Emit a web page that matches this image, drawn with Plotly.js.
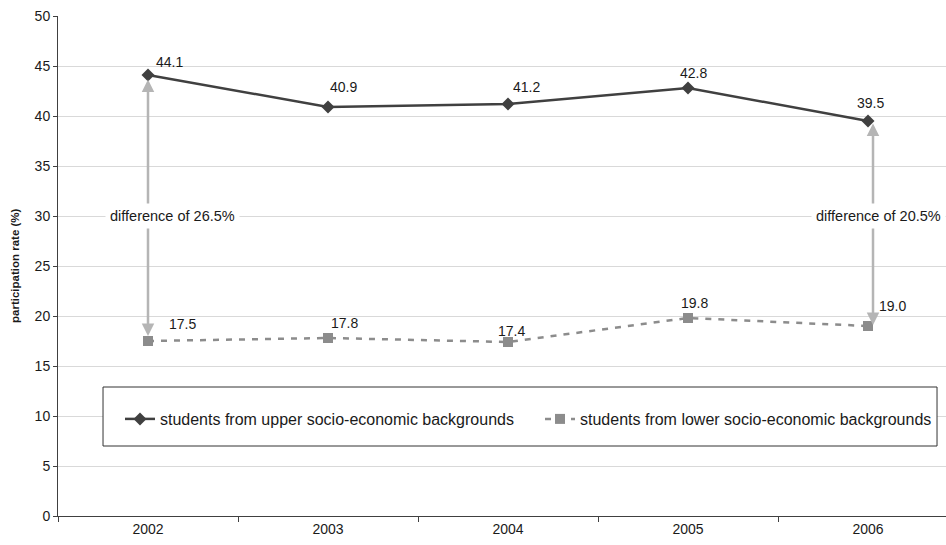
<!DOCTYPE html>
<html>
<head>
<meta charset="utf-8">
<script src="https://cdn.plot.ly/plotly-3.0.1.min.js"></script>
<style>
  html, body { margin: 0; padding: 0; background: #fff; }
  #chart { width: 946px; height: 545px; }
</style>
</head>
<body>
<div id="chart"></div>
<script>
// Participation rates by socio-economic background
const years = ['2002', '2003', '2004', '2005', '2006'];
const upper = [44.1, 40.9, 41.2, 42.8, 39.5];
const lower = [17.5, 17.8, 17.4, 19.8, 19.0];
const seriesNames = [
  'students from upper socio-economic backgrounds',
  'students from lower socio-economic backgrounds'
];
const gapYears = ['2002', '2006'];
const gapLabels = ['difference of 26.5%', 'difference of 20.5%'];
const yTickVals = [0, 5, 10, 15, 20, 25, 30, 35, 40, 45, 50];
const yTitle = 'participation rate (%)';

// Styling
const FONT = '"Liberation Sans", Arial, sans-serif';
const upperColor = '#404040';
const lowerColor = '#8c8c8c';
const arrowColor = '#b5b5b5';
const textColor = '#1a1a1a';
// pixel nudges for the value labels (dx, dy)
const upperShift = [[21, -13], [15, -20], [18, -17], [5, -15], [2, -18]];
const lowerShift = [[34, -17], [16, -15], [3, -11], [6, -15], [24, -20]];
const gapLabelLevel = 30;
const gapArrowShift = [0, 5];
const gapLabelShift = [24, 10];

const traces = [
  {
    x: years, y: upper, name: seriesNames[0], type: 'scatter', mode: 'lines+markers',
    line: { color: upperColor, width: 2.5 },
    marker: { symbol: 'diamond', size: 10, color: upperColor },
    legend: 'legend', hoverinfo: 'skip'
  },
  {
    x: years, y: lower, name: seriesNames[1], type: 'scatter', mode: 'lines+markers',
    line: { color: lowerColor, width: 2.5, dash: '6px,7px' },
    marker: { symbol: 'square', size: 10, color: lowerColor },
    legend: 'legend2', hoverinfo: 'skip'
  }
];

const annotations = [];

// double-headed arrows between the two series
gapYears.forEach((yr, k) => {
  const i = years.indexOf(yr);
  annotations.push({
    x: i, y: lower[i], ax: i, ay: upper[i],
    xref: 'x', yref: 'y', axref: 'x', ayref: 'y',
    showarrow: true, arrowside: 'end+start', arrowhead: 2, startarrowhead: 2,
    arrowsize: 1, startarrowsize: 1, arrowwidth: 2.5, arrowcolor: arrowColor,
    standoff: k === 0 ? 5 : 1, startstandoff: k === 0 ? 3 : 1,
    xshift: gapArrowShift[k], text: ''
  });
});

// difference labels on a white band over the arrow
gapYears.forEach((yr, k) => {
  const i = years.indexOf(yr);
  annotations.push({
    x: i, y: gapLabelLevel, xref: 'x', yref: 'y', showarrow: false,
    text: gapLabels[k], xshift: gapLabelShift[k],
    bgcolor: '#ffffff', borderpad: 4,
    font: { family: FONT, size: 14.5, color: textColor }
  });
});

// value labels
[[upper, upperShift], [lower, lowerShift]].forEach(([vals, shift]) => {
  vals.forEach((v, i) => {
    annotations.push({
      x: i, y: v, xref: 'x', yref: 'y', showarrow: false,
      text: v.toFixed(1), xshift: shift[i][0], yshift: -shift[i][1],
      font: { family: FONT, size: 14, color: textColor }
    });
  });
});

// y axis title
annotations.push({
  x: 0, y: 0.5, xref: 'paper', yref: 'paper', xshift: -43,
  xanchor: 'center', yanchor: 'middle',
  text: '<b>' + yTitle + '</b>', textangle: -90, showarrow: false,
  font: { family: FONT, size: 11.5, color: textColor }
});

// one legend per series, side by side inside the framed box
const legendStyle = (xPos) => ({
  orientation: 'h', x: xPos, xanchor: 'left', y: 0.194, yanchor: 'middle',
  bgcolor: 'rgba(0,0,0,0)', borderwidth: 0,
  font: { family: FONT, size: 16, color: textColor }
});

const layout = {
  width: 946, height: 545,
  margin: { l: 58, r: 0, t: 16, b: 29, pad: 0 },
  paper_bgcolor: '#ffffff', plot_bgcolor: '#ffffff',
  font: { family: FONT, size: 14, color: textColor },
  showlegend: true,
  legend: legendStyle(0.0698),
  legend2: legendStyle(0.5428),
  xaxis: {
    type: 'category', range: [-0.5, 4.4333], tickson: 'boundaries',
    ticks: 'outside', ticklen: 5, tickcolor: '#404040', tickwidth: 1,
    showline: true, linecolor: '#404040', linewidth: 1,
    showgrid: false, zeroline: false, fixedrange: true,
    tickfont: { family: FONT, size: 14, color: textColor }
  },
  yaxis: {
    range: [0, 50], tickvals: yTickVals,
    ticks: 'outside', ticklen: 4, tickcolor: '#404040', tickwidth: 1,
    showline: true, linecolor: '#404040', linewidth: 1,
    showgrid: true, gridcolor: '#d9d9d9', gridwidth: 1, zeroline: false,
    fixedrange: true,
    tickfont: { family: FONT, size: 14, color: textColor }
  },
  shapes: [{
    type: 'rect', xref: 'paper', yref: 'paper',
    x0: 0.0507, x1: 0.9899, y0: 0.14, y1: 0.258,
    line: { color: '#333333', width: 1 }, fillcolor: '#ffffff', layer: 'above'
  }],
  annotations: annotations
};

Plotly.newPlot('chart', traces, layout, { staticPlot: true, displayModeBar: false });
</script>
</body>
</html>
